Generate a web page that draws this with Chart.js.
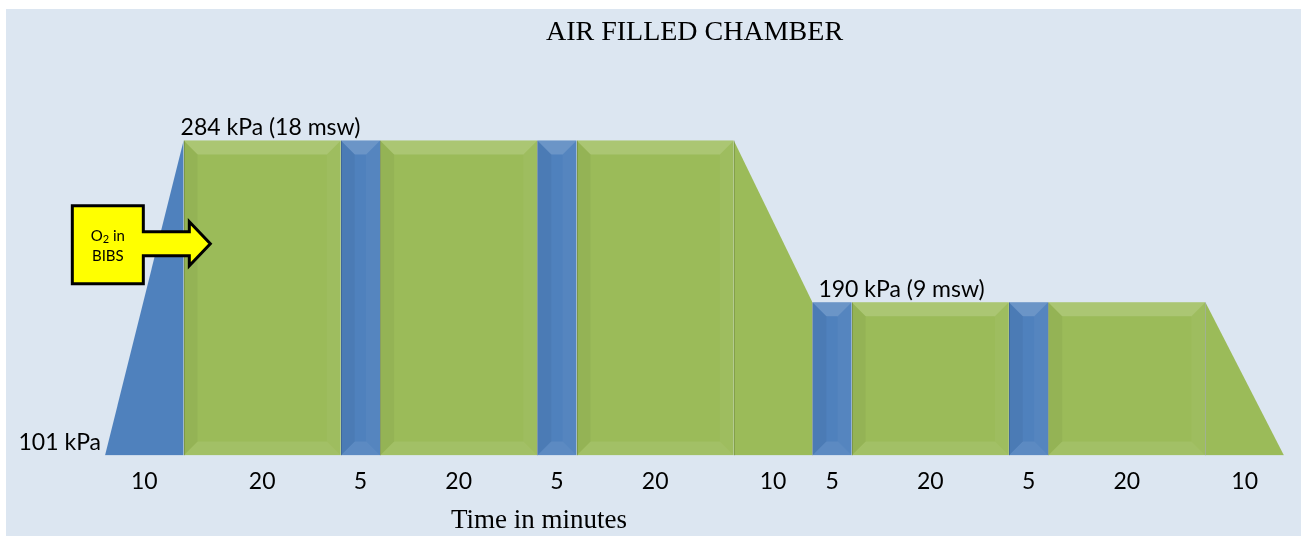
<!DOCTYPE html>
<html>
<head>
<meta charset="utf-8">
<script src="https://cdn.jsdelivr.net/npm/chart.js@4.4.1/dist/chart.umd.min.js"></script>
<style>
  body { margin: 0; background: #ffffff; }
  #wrap { position: absolute; left: 6px; top: 9px; width: 1295px; height: 527px; background: #dce6f1; }
</style>
</head>
<body>
<div id="wrap"><canvas id="profile" width="1295" height="527"></canvas></div>
<script>
// treatment profile, one entry per segment
const durations = [10, 20, 5, 20, 5, 20, 10, 5, 20, 5, 20, 10];
const startKPa = [101, 284, 284, 284, 284, 284, 284, 190, 190, 190, 190, 190];
const endKPa = [284, 284, 284, 284, 284, 284, 190, 190, 190, 190, 190, 101];
const breathing = ["air", "o2", "air", "o2", "air", "o2", "o2", "air", "o2", "air", "o2", "o2"];

// pressure level labels
const levelText = ["101 kPa", "284 kPa (18 msw)", "190 kPa (9 msw)"];
const levelKPa = [101, 284, 190];
const levelTime = [0, 10, 90];

const colors = { air: "#4f81bd", o2: "#9bbb59" };

// start time of each segment
const startTimes = [];
let t = 0;
durations.forEach((d) => { startTimes.push(t); t += d; });
const totalTime = t;
const midTimes = startTimes.map((s, i) => s + durations[i] / 2);

const datasets = durations.map((d, i) => ({
  data: [
    { x: startTimes[i], y: startKPa[i] },
    { x: startTimes[i] + d, y: endKPa[i] },
  ],
  backgroundColor: colors[breathing[i]],
  borderWidth: 0,
  pointRadius: 0,
  fill: "start",
  tension: 0,
}));

// bevel shading on the flat blocks
const bevelPlugin = {
  id: "bevel",
  afterDatasetsDraw(chart) {
    const ctx = chart.ctx;
    const bottom = chart.chartArea.bottom;
    ctx.save();
    chart.data.datasets.forEach((ds, i) => {
      const pts = chart.getDatasetMeta(i).data;
      const x0 = pts[0].x, x1 = pts[1].x;
      const y0 = pts[0].y, y1 = pts[1].y;
      if (startKPa[i] === endKPa[i]) {
        const b = Math.min(14, (x1 - x0) / 2);
        ctx.fillStyle = "rgba(255,255,255,0.16)";
        ctx.beginPath();
        ctx.moveTo(x0, y0); ctx.lineTo(x1, y0); ctx.lineTo(x1 - b, y0 + b); ctx.lineTo(x0 + b, y0 + b);
        ctx.fill();
        ctx.fillStyle = "rgba(0,0,0,0.04)";
        ctx.beginPath();
        ctx.moveTo(x0, y0); ctx.lineTo(x0 + b, y0 + b); ctx.lineTo(x0 + b, bottom - b); ctx.lineTo(x0, bottom);
        ctx.fill();
        ctx.fillStyle = "rgba(255,255,255,0.04)";
        ctx.beginPath();
        ctx.moveTo(x1, y1); ctx.lineTo(x1 - b, y1 + b); ctx.lineTo(x1 - b, bottom - b); ctx.lineTo(x1, bottom);
        ctx.fill();
        ctx.fillStyle = "rgba(255,255,255,0.08)";
        ctx.beginPath();
        ctx.moveTo(x0, bottom); ctx.lineTo(x0 + b, bottom - b); ctx.lineTo(x1 - b, bottom - b); ctx.lineTo(x1, bottom);
        ctx.fill();
      }
      // thin edge between segments
      ctx.strokeStyle = "rgba(0,0,0,0.15)";
      ctx.lineWidth = 1;
      ctx.beginPath();
      ctx.moveTo(Math.round(x1) + 0.5, y1);
      ctx.lineTo(Math.round(x1) + 0.5, bottom);
      ctx.stroke();
    });
    ctx.restore();
  },
};

// pressure labels, O2 arrow and x axis caption
const notesPlugin = {
  id: "notes",
  afterDraw(chart) {
    const ctx = chart.ctx;
    const xs = chart.scales.x, ys = chart.scales.y;
    ctx.save();
    ctx.fillStyle = "#000";
    ctx.font = "23px Lato";
    ctx.textBaseline = "bottom";
    levelText.forEach((txt, i) => {
      const px = xs.getPixelForValue(levelTime[i]);
      const py = ys.getPixelForValue(levelKPa[i]);
      if (i === 0) {
        ctx.textAlign = "right";
        ctx.fillText(txt, px - 4, py - 1);
      } else {
        ctx.textAlign = "left";
        ctx.fillText(txt, px + (i === 2 ? 6 : -3), py - 1);
      }
    });

    // O2 in BIBS arrow
    const tipX = xs.getPixelForValue(13.4);
    const tipY = ys.getPixelForValue(224);
    ctx.beginPath();
    ctx.moveTo(tipX - 138, tipY - 38);
    ctx.lineTo(tipX - 67, tipY - 38);
    ctx.lineTo(tipX - 67, tipY - 12);
    ctx.lineTo(tipX - 21, tipY - 12);
    ctx.lineTo(tipX - 21, tipY - 22);
    ctx.lineTo(tipX, tipY);
    ctx.lineTo(tipX - 21, tipY + 22);
    ctx.lineTo(tipX - 21, tipY + 12);
    ctx.lineTo(tipX - 67, tipY + 12);
    ctx.lineTo(tipX - 67, tipY + 40);
    ctx.lineTo(tipX - 138, tipY + 40);
    ctx.closePath();
    ctx.fillStyle = "#ffff00";
    ctx.fill();
    ctx.lineWidth = 3;
    ctx.lineJoin = "miter";
    ctx.strokeStyle = "#000";
    ctx.stroke();

    ctx.fillStyle = "#000";
    ctx.textBaseline = "middle";
    ctx.textAlign = "left";
    const cx = tipX - 102.5;
    ctx.font = "15px Lato";
    const w1 = ctx.measureText("O").width;
    const w3 = ctx.measureText(" in").width;
    ctx.font = "11px Lato";
    const w2 = ctx.measureText("2").width;
    let sx = cx - (w1 + w2 + w3) / 2;
    ctx.font = "15px Lato";
    ctx.fillText("O", sx, tipY - 8);
    ctx.font = "11px Lato";
    ctx.fillText("2", sx + w1, tipY - 4);
    ctx.font = "15px Lato";
    ctx.fillText(" in", sx + w1 + w2, tipY - 8);
    ctx.textAlign = "center";
    ctx.fillText("BIBS", cx, tipY + 12);

    // axis caption
    ctx.font = "27px 'Liberation Serif'";
    ctx.textAlign = "center";
    ctx.fillText("Time in minutes", 533, 512);
    ctx.restore();
  },
};

new Chart(document.getElementById("profile"), {
  type: "line",
  data: { datasets: datasets },
  options: {
    responsive: false,
    animation: false,
    devicePixelRatio: 1,
    layout: { padding: { left: 99, right: 17, top: 0, bottom: 29 } },
    plugins: {
      legend: { display: false },
      tooltip: { enabled: false },
      title: {
        display: true,
        text: "AIR FILLED CHAMBER",
        fullSize: false,
        color: "#000",
        font: { family: "'Liberation Serif'", size: 28, weight: "normal" },
        padding: { top: 7, bottom: 29 },
      },
    },
    scales: {
      x: {
        type: "linear",
        min: 0,
        max: totalTime,
        grid: { display: false, drawTicks: false },
        border: { display: false },
        afterBuildTicks: (scale) => {
          scale.ticks = midTimes.map((v) => ({ value: v }));
        },
        ticks: {
          autoSkip: false,
          maxRotation: 0,
          padding: 12,
          color: "#000",
          font: { family: "Lato", size: 23 },
          callback: (value, index) => durations[index],
        },
      },
      y: {
        display: false,
        min: 101,
        max: 320,
      },
    },
  },
  plugins: [bevelPlugin, notesPlugin],
});
</script>
</body>
</html>
